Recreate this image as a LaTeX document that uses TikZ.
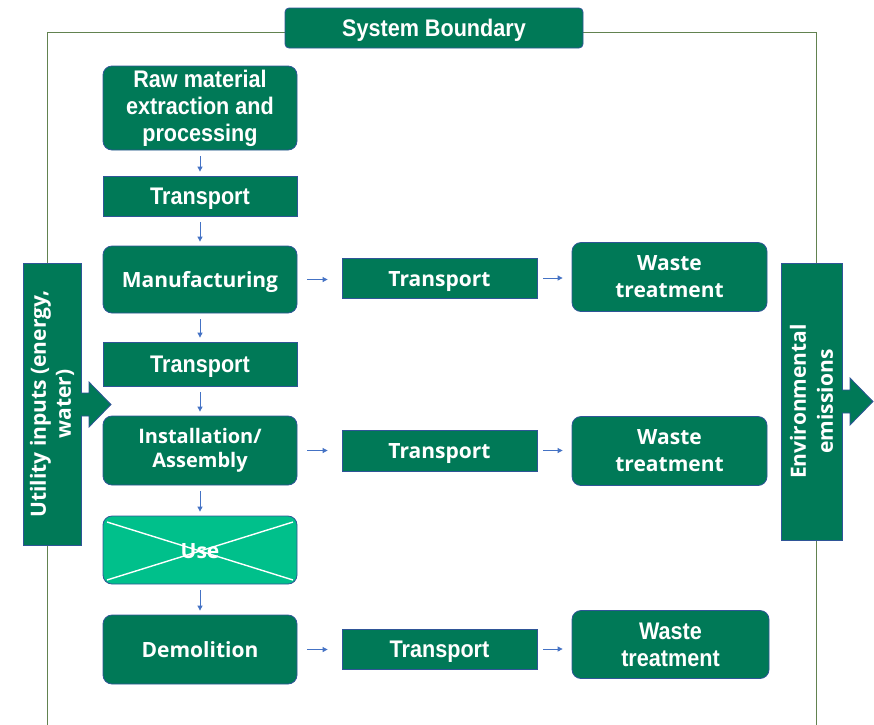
\documentclass[tikz,border=0pt]{standalone}
\usepackage{fontspec}
\setmainfont{Open Sans}
\newfontfamily\widef{Open Sans}
\newfontfamily\condf{Liberation Sans}[FakeStretch=0.9]
\usetikzlibrary{arrows.meta,calc}
\definecolor{dg}{RGB}{0,121,87}
\definecolor{lg}{RGB}{0,192,139}
\definecolor{bordc}{RGB}{47,85,151}
\definecolor{arrc}{RGB}{68,114,196}
\definecolor{boundc}{RGB}{98,130,80}
\tikzset{
  box/.style={draw=bordc, line width=0.8pt, fill=dg, text=white, inner sep=0pt, align=center, minimum width=194pt},
  rbox/.style={box, rounded corners=9pt},
  oneline/.style={text height=17pt, text depth=1pt},
  widetxt/.style={font=\widef\bfseries\fontsize{21}{27}\selectfont},
  condtxt/.style={font=\condf\bfseries\fontsize{24}{27}\selectfont},
  sarr/.style={draw=arrc, line width=0.8pt, -{Triangle[length=5pt,width=5pt]}},
  varr/.style={sarr, shorten <=6pt, shorten >=4pt},
  harr/.style={sarr, shorten <=10pt, shorten >=14pt},
  harrb/.style={sarr, shorten <=6pt, shorten >=9pt},
}
\begin{document}
\begin{tikzpicture}[x=1pt,y=-1pt]
\useasboundingbox (0,0) rectangle (874,724);
% system boundary line
\draw[boundc, line width=1pt] (47,730) -- (47,32) -- (816,32) -- (816,730);
\node[box, rounded corners=4pt, minimum width=298pt, minimum height=40pt, oneline, font=\condf\bfseries\fontsize{24}{27}\selectfont] (sb) at (434,28) {System Boundary};
% left column
\node[rbox, minimum height=84pt, condtxt] (raw) at (200,108) {Raw material\\extraction and\\processing};
\node[box, minimum height=40pt, condtxt, oneline] (t1) at (200,196) {Transport};
\node[rbox, minimum height=67pt, widetxt, oneline] (man) at (200,279.5) {Manufacturing};
\node[box, minimum height=44pt, condtxt, oneline] (t2) at (200,364) {Transport};
\node[rbox, minimum height=69pt, widetxt, font=\widef\bfseries\fontsize{20}{24}\selectfont] (ins) at (200,450.5) {Installation/\\Assembly};
\node[rbox, fill=lg, minimum height=68pt, widetxt] (use) at (200,550) {};
\draw[white, line width=1.4pt] (107,522) -- (293,580) (107,580) -- (293,522);
\node[widetxt, oneline, text=white, inner sep=0pt] (uset) at (use.center) {Use};
\node[rbox, minimum height=69pt, widetxt, oneline] (dem) at (200,649.5) {Demolition};
% transport column
\node[box, minimum width=195pt, minimum height=40pt, widetxt, oneline] (rt1) at (439.5,278) {Transport};
\node[box, minimum width=195pt, minimum height=41pt, widetxt, oneline] (rt2) at (439.5,450.5) {Transport};
\node[box, minimum width=195pt, minimum height=40pt, condtxt, oneline] (rt3) at (439.5,649) {Transport};
% waste column
\node[rbox, minimum width=195pt, minimum height=69pt, widetxt] (w1) at (669.5,277) {Waste\\treatment};
\node[rbox, minimum width=195pt, minimum height=69pt, widetxt] (w2) at (669.5,451) {Waste\\treatment};
\node[rbox, minimum width=197pt, minimum height=68pt, condtxt] (w3) at (670.5,644.5) {Waste\\treatment};
% side boxes
\node[box, minimum width=282pt, minimum height=58pt, rotate=90, font=\widef\bfseries\fontsize{21}{25}\selectfont] (util) at (52,404) {Utility inputs (energy,\\water)};
\node[box, minimum width=277pt, minimum height=61pt, rotate=90, font=\widef\bfseries\fontsize{21}{27}\selectfont] (env) at (811.5,401.5) {Environmental\\emissions};
% big arrows
\coordinate (ua) at (81,404.5);
\fill[dg] ($(ua)+(0,-11.5)$) -- ++(8,0) -- ++(0,-11) -- ($(ua)+(30,0)$) -- ($(ua)+(8,22.5)$) -- ++(0,-11) -- ($(ua)+(0,11.5)$) -- cycle;
\draw[bordc, line width=0.8pt] ($(ua)+(0,-11.5)$) -- ++(8,0) -- ++(0,-11) -- ($(ua)+(30,0)$) -- ($(ua)+(8,22.5)$) -- ++(0,-11) -- ($(ua)+(0,11.5)$);
\coordinate (ea) at (842,401.5);
\fill[dg] ($(ea)+(0,-11.5)$) -- ++(8,0) -- ++(0,-12) -- ($(ea)+(31,0)$) -- ($(ea)+(8,23.5)$) -- ++(0,-12) -- ($(ea)+(0,11.5)$) -- cycle;
\draw[bordc, line width=0.8pt] ($(ea)+(0,-11.5)$) -- ++(8,0) -- ++(0,-12) -- ($(ea)+(31,0)$) -- ($(ea)+(8,23.5)$) -- ++(0,-12) -- ($(ea)+(0,11.5)$);
% small arrows
\draw[varr] (raw) -- (t1);
\draw[varr] (t1) -- (man);
\draw[varr] (man) -- (t2);
\draw[varr] (t2) -- (ins);
\draw[varr] (ins) -- (use);
\draw[varr] (use) -- (dem);
\draw[harr] (man.east) -- (man.east -| rt1.west);
\draw[harr] (ins.east) -- (ins.east -| rt2.west);
\draw[harr] (dem.east) -- (dem.east -| rt3.west);
\draw[harrb] (rt1.east) -- (rt1.east -| w1.west);
\draw[harrb] (rt2.east) -- (rt2.east -| w2.west);
\draw[harrb] (rt3.east) -- (rt3.east -| w3.west);
\end{tikzpicture}
\end{document}
